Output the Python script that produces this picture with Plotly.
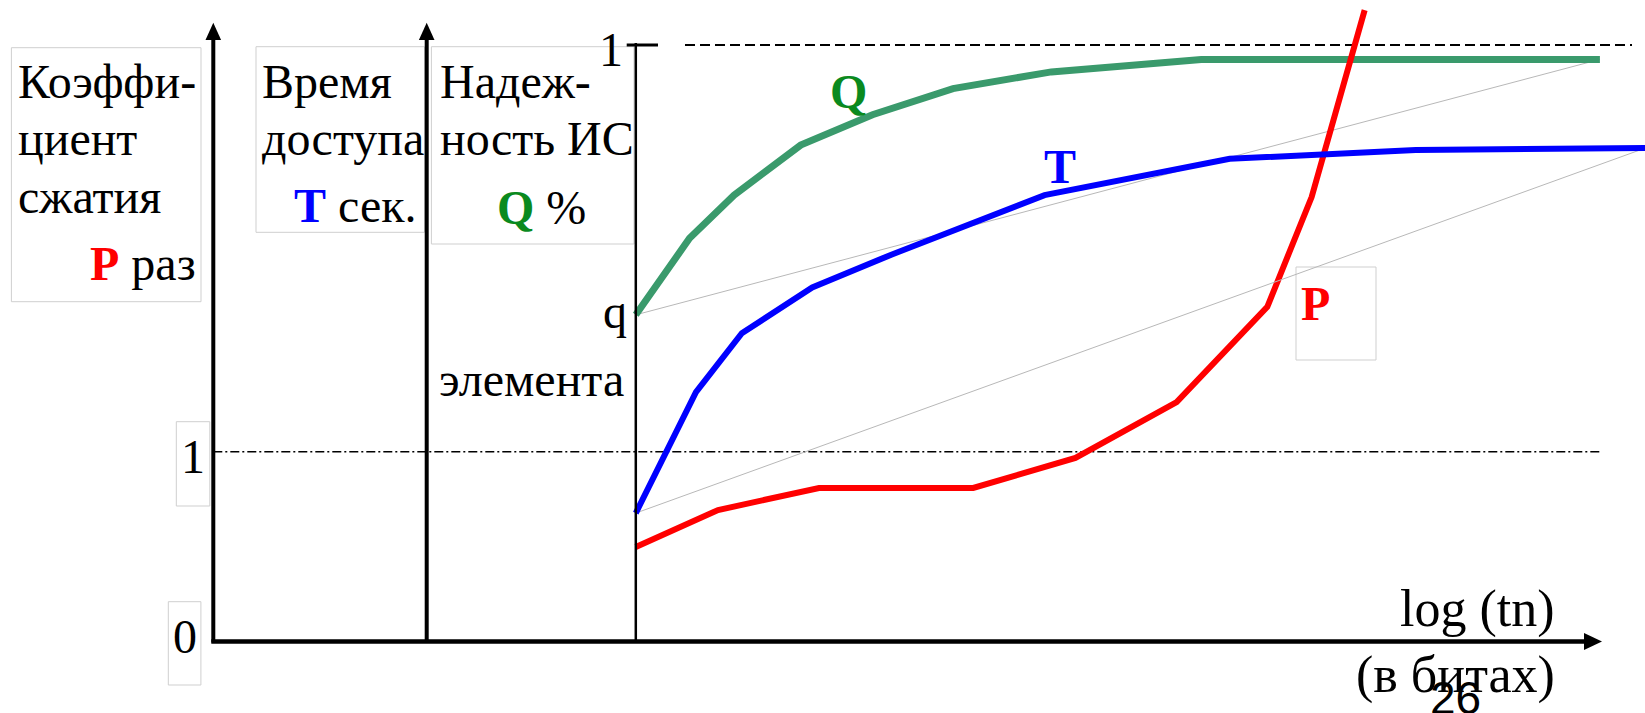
import plotly.graph_objects as go

# ---------------- data ----------------
# x = log(tn) in arbitrary units (0 at the reliability axis, 100 at the arrow)
LOG_TN_Q = [0, 5.57, 10.19, 17.1, 24.55, 32.9, 43.1, 58.65, 100]
Q_PCT = [54.7, 67.55, 74.8, 83.2, 88.3, 92.7, 95.5, 97.6, 97.6]

LOG_TN_T = [0, 6.24, 11.0, 18.3, 26.5, 32.9, 42.4, 61.6, 80.9, 104.7]
T_SEC = [2.14, 4.17, 5.16, 5.93, 6.48, 6.89, 7.48, 8.09, 8.24, 8.27]

LOG_TN_P = [0, 8.53, 19.0, 35.0, 45.6, 56.1, 65.5, 70.1, 75.6]
P_TIMES = [0.495, 0.691, 0.808, 0.808, 0.967, 1.263, 1.767, 2.349, 3.339]

Q_MAX = 100      # reliability limit "1" (100 %)
P_ONE = 1        # compression ratio = 1
X_END = 100      # end of the log(tn) axis

# ---------------- layout constants (pixels) ----------------
W, H = 1645, 713
ORIGIN_X, ORIGIN_Y = 635.8, 640.5
PX_PER_X = 9.641
PX_PER_Q = 5.954
PX_PER_P = 188.8
PX_PER_T = 59.54

SERIF = "Times New Roman, Liberation Serif, Tinos, DejaVu Serif, serif"
GREEN_LINE = "#3a9a6c"
GREEN_TXT = "#0a8a1e"
BLUE = "#0000ff"
RED = "#ff0000"
BOX = "#cfcfcf"


def xr():
    return [(0 - ORIGIN_X) / PX_PER_X, (W - ORIGIN_X) / PX_PER_X]


def yr(per):
    return [(ORIGIN_Y - H) / per, ORIGIN_Y / per]


def px(x):
    return x / W


def py(y):
    return 1 - y / H


def x_of(pxv):
    return (pxv - ORIGIN_X) / PX_PER_X


fig = go.Figure()

# chords (thin grey)
fig.add_trace(go.Scatter(x=[LOG_TN_Q[0], LOG_TN_Q[-1]], y=[Q_PCT[0], Q_PCT[-1]], mode="lines",
                         line=dict(color="#b8b8b8", width=1), yaxis="y", hoverinfo="skip"))
fig.add_trace(go.Scatter(x=[LOG_TN_T[0], LOG_TN_T[-1]], y=[T_SEC[0], T_SEC[-1]], mode="lines",
                         line=dict(color="#b8b8b8", width=1), yaxis="y3", hoverinfo="skip"))

# reference lines
fig.add_trace(go.Scatter(x=[x_of(685), x_of(1632)], y=[Q_MAX, Q_MAX], mode="lines",
                         line=dict(color="black", width=2, dash="10px,5px"), yaxis="y", hoverinfo="skip"))
fig.add_trace(go.Scatter(x=[x_of(213.3), X_END], y=[P_ONE, P_ONE], mode="lines",
                         line=dict(color="black", width=1.5, dash="9px,3px,2px,3px"), yaxis="y2",
                         hoverinfo="skip"))

# curves
fig.add_trace(go.Scatter(x=LOG_TN_Q, y=Q_PCT, mode="lines", name="Q",
                         line=dict(color=GREEN_LINE, width=7), yaxis="y"))
fig.add_trace(go.Scatter(x=LOG_TN_T, y=T_SEC, mode="lines", name="T",
                         line=dict(color=BLUE, width=6), yaxis="y3"))
fig.add_trace(go.Scatter(x=LOG_TN_P, y=P_TIMES, mode="lines", name="P",
                         line=dict(color=RED, width=6), yaxis="y2"))

shapes = []
# axes (in pixels)
AX1, AX2, AX3 = 213.3, 426.7, 635.8
for ax in (AX1, AX2):
    shapes.append(dict(type="line", xref="paper", yref="paper", x0=px(ax), x1=px(ax),
                       y0=py(ORIGIN_Y + 2), y1=py(36), line=dict(color="black", width=4)))
    shapes.append(dict(type="path", xref="paper", yref="paper",
                       path=f"M {px(ax)} {py(22.7)} L {px(ax - 7.8)} {py(40)} L {px(ax + 7.8)} {py(40)} Z",
                       fillcolor="black", line=dict(color="black", width=0)))
shapes.append(dict(type="line", xref="paper", yref="paper", x0=px(AX3), x1=px(AX3),
                   y0=py(ORIGIN_Y), y1=py(43), line=dict(color="black", width=2.5)))
shapes.append(dict(type="line", xref="paper", yref="paper", x0=px(626.7), x1=px(658),
                   y0=py(45), y1=py(45), line=dict(color="black", width=3)))
# horizontal axis
shapes.append(dict(type="line", xref="paper", yref="paper", x0=px(AX1 - 2), x1=px(1588),
                   y0=py(641.5), y1=py(641.5), line=dict(color="black", width=4.5)))
shapes.append(dict(type="path", xref="paper", yref="paper",
                   path=f"M {px(1602)} {py(641.5)} L {px(1584)} {py(633)} L {px(1584)} {py(650)} Z",
                   fillcolor="black", line=dict(color="black", width=0)))

# light boxes
boxes = [(11.4, 47.7, 201, 301.7), (256, 46.7, 424.5, 232.3), (431.4, 46.7, 634, 244),
         (176.3, 421.7, 209.8, 506), (168.3, 601.7, 200.9, 685), (1296, 267, 1376, 360)]
for x0, y0, x1, y1 in boxes:
    shapes.append(dict(type="rect", xref="paper", yref="paper", x0=px(x0), x1=px(x1),
                       y0=py(y0), y1=py(y1), line=dict(color=BOX, width=1), layer="below"))

annotations = []


def txt(s, x, base, anchor="left", size=48, color="black", family=SERIF):
    annotations.append(dict(text=s, x=px(x), y=py(base - 0.34 * size), xref="paper", yref="paper",
                            xanchor=anchor, yanchor="middle", showarrow=False,
                            font=dict(family=family, size=size, color=color)))


def col(s, c):
    return f"<b><span style='color:{c}'>{s}</span></b>"


FS = 48
txt("Коэффи-", 16, 98, size=FS)
txt("циент", 16, 155, size=FS)
txt("сжатия", 16, 213, size=FS)
txt(col("P", RED) + " раз", 198, 280, anchor="right", size=FS)

txt("Время", 260, 98, size=FS)
txt("доступа", 260, 155, size=FS)
txt(col("T", BLUE) + " сек.", 419, 222, anchor="right", size=FS)

txt("Надеж-", 438, 98, size=FS)
txt("ность ИС", 438, 155, size=FS)
txt(col("Q", GREEN_TXT) + " %", 541, 224, anchor="center", size=FS)

txt("1", 611, 66, anchor="center", size=FS)
txt("q", 615, 328, anchor="center", size=FS)
txt("элемента", 626, 396, anchor="right", size=FS)
txt("1", 193, 473, anchor="center", size=FS)
txt("0", 185, 653, anchor="center", size=FS)

txt(col("Q", GREEN_TXT), 848, 108, anchor="center", size=FS)
txt(col("T", BLUE), 1060, 183, anchor="center", size=FS)
txt(col("P", RED), 1315, 320, anchor="center", size=FS)

txt("log (tn)", 1557, 627, anchor="right", size=52)
txt("(в битах)", 1557, 693, anchor="right", size=52)
txt("26", 1455, 714, anchor="center", size=46, family="Liberation Sans, Arial, sans-serif")

fig.update_layout(
    width=W, height=H, margin=dict(l=0, r=0, t=0, b=0),
    paper_bgcolor="white", plot_bgcolor="white", showlegend=False,
    font=dict(family=SERIF),
    xaxis=dict(range=xr(), visible=False, fixedrange=True),
    yaxis=dict(range=yr(PX_PER_Q), visible=False, fixedrange=True),
    yaxis2=dict(range=yr(PX_PER_P), visible=False, overlaying="y", fixedrange=True),
    yaxis3=dict(range=yr(PX_PER_T), visible=False, overlaying="y", fixedrange=True),
    shapes=shapes, annotations=annotations,
)

fig.write_html("out.html", config={"displayModeBar": False},
               post_script="document.body.style.margin='0';document.body.style.overflow='hidden';")
